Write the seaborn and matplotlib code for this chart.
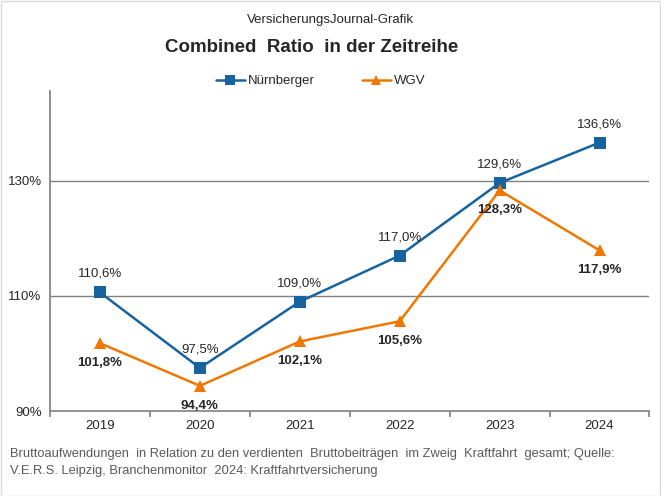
import matplotlib
matplotlib.use("Agg")
import matplotlib.pyplot as plt
import seaborn as sns
import pandas as pd

years = ["2019", "2020", "2021", "2022", "2023", "2024"]
nuernberger = [110.6, 97.5, 109.0, 117.0, 129.6, 136.6]
wgv = [101.8, 94.4, 102.1, 105.6, 128.3, 117.9]
series_names = ["Nürnberger", "WGV"]
yticks = [90, 110, 130]

sns.set_theme(style="white")
plt.rcParams['font.family'] = ['Liberation Sans', 'DejaVu Sans']

df = pd.DataFrame({
    "Jahr": years * 2,
    "Wert": nuernberger + wgv,
    "Serie": [series_names[0]] * len(years) + [series_names[1]] * len(years),
})
df["x"] = list(range(len(years))) * 2

colors = {"Nürnberger": "#1763A0", "WGV": "#F07800"}
markers = {"Nürnberger": "s", "WGV": "^"}

fig = plt.figure(figsize=(6.61, 4.96), dpi=100)
ax = fig.add_axes([0.0756, 0.171, 0.907, 0.645])

sns.lineplot(data=df, x="x", y="Wert", hue="Serie", style="Serie",
             palette=colors, markers=markers, dashes=False, markersize=8.5,
             markeredgewidth=0, linewidth=1.8, ax=ax, legend=False)

ax.set_xlim(-0.5, 5.5)
ax.set_ylim(90, 145.5)
ax.set_yticks(yticks)
ax.set_yticklabels([f"{t}%" for t in yticks], fontsize=9.5)
ax.set_xticks(range(len(years)))
ax.set_xticklabels(years, fontsize=9.5)
ax.set_xlabel("")
ax.set_ylabel("")
ax.tick_params(axis="x", length=0, pad=6)
ax.tick_params(axis="y", length=0, pad=6)
ax.set_xticks([i + 0.5 for i in range(-1, len(years))], minor=True)
ax.tick_params(axis="x", which="minor", length=4, direction="out", color="#808080", width=1.2, bottom=True)
for y in yticks[1:]:
    ax.axhline(y, color="#808080", linewidth=1, zorder=0)

for s in ["top", "right"]:
    ax.spines[s].set_visible(False)
ax.spines["left"].set_color("#808080")
ax.spines["bottom"].set_color("#808080")
ax.spines["bottom"].set_linewidth(1.2)

for i, v in enumerate(nuernberger):
    ax.annotate(f"{v:.1f}%".replace(".", ","), (i, v), xytext=(0, 9),
                textcoords="offset points", ha="center", va="bottom", fontsize=9.5)
for i, v in enumerate(wgv):
    ax.annotate(f"{v:.1f}%".replace(".", ","), (i, v), xytext=(0, -10),
                textcoords="offset points", ha="center", va="top", fontsize=9.5,
                fontweight="bold")

from matplotlib.lines import Line2D
handles = [Line2D([], [], color=colors[n], marker=markers[n], markersize=7,
                  markeredgewidth=0, linewidth=1.8) for n in series_names]
fig.legend(handles, series_names, loc="center", bbox_to_anchor=(0.485, 0.836),
           ncol=2, frameon=False, fontsize=9.5, handlelength=2.2,
           columnspacing=3.6, handletextpad=0.2)

fig.text(0.5, 0.96, "VersicherungsJournal-Grafik", ha="center", va="center", fontsize=9.5)
fig.text(0.472, 0.905, "Combined  Ratio  in der Zeitreihe", ha="center", va="center",
         fontsize=13.5, fontweight="bold")
fig.text(0.015, 0.084, "Bruttoaufwendungen  in Relation zu den verdienten  Bruttobeiträgen  im Zweig  Kraftfahrt  gesamt; Quelle:",
         ha="left", va="center", fontsize=9.3, color="#595959")
fig.text(0.015, 0.051, "V.E.R.S. Leipzig, Branchenmonitor  2024: Kraftfahrtversicherung",
         ha="left", va="center", fontsize=9.3, color="#595959")

fig.patches.append(plt.Rectangle((0.001, 0.001), 0.997, 0.997, transform=fig.transFigure,
                                 fill=False, edgecolor="#D9D9D9", linewidth=1))

fig.savefig("out.png", dpi=100)
